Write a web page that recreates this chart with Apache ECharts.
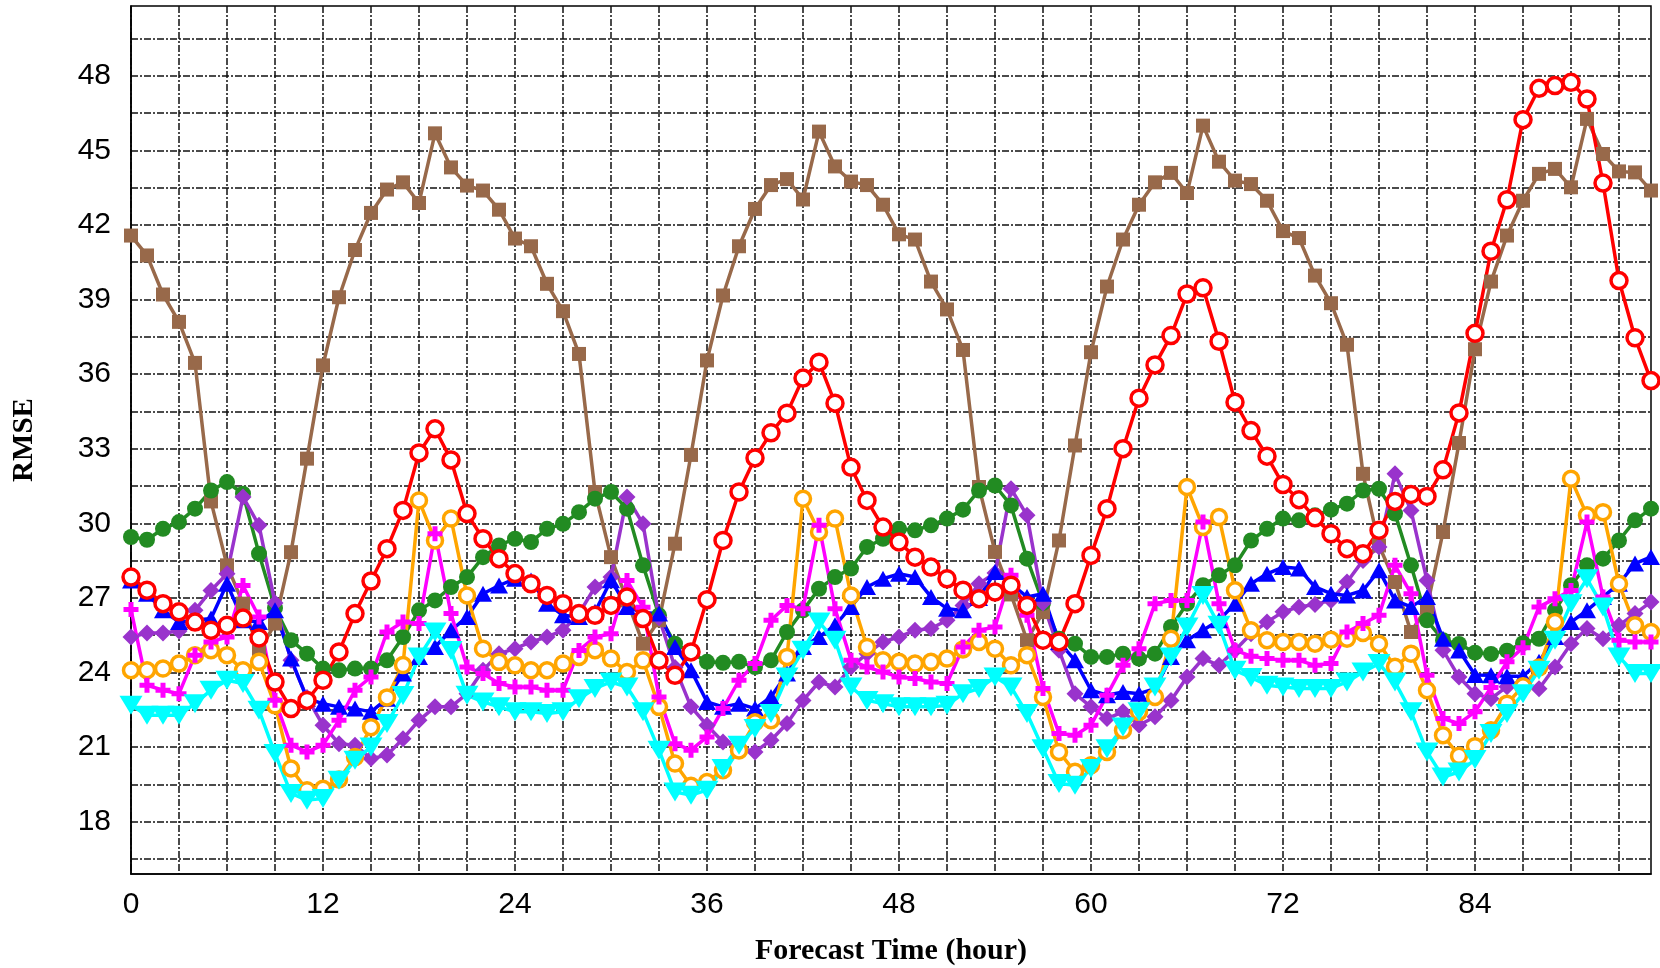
<!DOCTYPE html>
<html>
<head>
<meta charset="utf-8">
<script src="https://cdn.jsdelivr.net/npm/echarts@6/dist/echarts.min.js"></script>
<style>
html,body{margin:0;padding:0;background:#fff;}
#chart{width:1660px;height:968px;}
</style>
</head>
<body>
<div id="chart"></div>
<script>
// Tick labels
const xTickLabels = [0, 12, 24, 36, 48, 60, 72, 84];
const yTickLabels = [18, 21, 24, 27, 30, 33, 36, 39, 42, 45, 48];

// Series values, forecast hours 0..95
const brown = [41.57,40.77,39.2,38.1,36.45,30.88,28.31,26.77,24.83,25.97,28.84,32.6,36.35,39.09,40.99,42.48,43.42,43.71,42.88,45.68,44.31,43.58,43.38,42.61,41.45,41.14,39.63,38.53,36.81,31.26,28.64,26.9,25.16,26.1,29.18,32.75,36.55,39.16,41.14,42.64,43.6,43.84,43.02,45.75,44.35,43.74,43.6,42.81,41.62,41.41,39.72,38.6,36.97,31.46,28.85,27.14,25.3,26.43,29.31,33.13,36.88,39.52,41.41,42.81,43.71,44.09,43.28,45.99,44.54,43.78,43.64,42.97,41.75,41.47,39.96,38.85,37.18,31.99,29.11,27.64,25.63,26.63,29.65,33.23,37.0,39.72,41.57,42.97,44.05,44.25,43.51,46.26,44.85,44.15,44.11,43.38];
const red = [27.84,27.31,26.77,26.44,26.03,25.7,25.9,26.19,25.39,23.62,22.55,22.88,23.69,24.83,26.37,27.68,28.98,30.52,32.83,33.8,32.55,30.39,29.38,28.58,27.98,27.57,27.1,26.77,26.37,26.3,26.7,27.04,26.17,24.49,23.89,24.83,26.93,29.31,31.26,32.63,33.64,34.43,35.84,36.48,34.83,32.25,30.92,29.85,29.25,28.64,28.24,27.77,27.31,26.97,27.24,27.51,26.7,25.3,25.23,26.77,28.71,30.59,33.0,35.03,36.37,37.55,39.22,39.47,37.32,34.87,33.73,32.7,31.56,30.95,30.22,29.58,28.98,28.78,29.72,30.88,31.16,31.08,32.15,34.44,37.64,40.94,43.01,46.23,47.49,47.6,47.73,47.06,43.68,39.76,37.46,35.74];
const green = [29.45,29.34,29.78,30.05,30.59,31.32,31.66,31.19,28.78,26.6,25.3,24.76,24.16,24.09,24.16,24.16,24.49,25.43,26.5,26.9,27.44,27.84,28.64,29.11,29.38,29.25,29.78,29.98,30.45,30.99,31.26,30.59,28.31,26.3,25.16,24.8,24.43,24.39,24.43,24.22,24.49,25.63,26.5,27.37,27.84,28.18,29.05,29.38,29.78,29.72,29.92,30.19,30.55,31.32,31.52,30.72,28.58,26.8,25.36,25.16,24.63,24.63,24.76,24.56,24.76,25.83,26.77,27.51,27.91,28.31,29.31,29.78,30.19,30.12,30.32,30.55,30.79,31.32,31.39,30.39,28.31,26.1,25.3,25.15,24.8,24.75,24.88,25.18,25.36,26.5,27.51,28.31,28.58,29.31,30.12,30.59];
const purple = [25.43,25.59,25.59,25.67,26.5,27.3,27.97,31.06,29.92,26.8,24.49,23.0,21.88,21.14,21.08,20.54,20.68,21.34,22.08,22.62,22.62,23.15,24.09,24.76,24.96,25.23,25.43,25.7,26.37,27.44,27.84,31.06,29.98,26.2,24.2,22.62,21.88,21.21,21.0,20.81,21.28,21.95,22.88,23.62,23.42,24.22,24.76,25.23,25.43,25.7,25.77,26.1,26.7,27.57,28.0,31.39,30.32,26.8,24.9,23.15,22.62,22.15,22.42,21.88,22.22,22.88,23.82,24.56,24.29,24.9,25.56,26.03,26.44,26.64,26.74,26.9,27.64,28.51,29.05,31.99,30.52,27.7,24.9,23.82,23.15,22.95,23.43,23.5,23.35,24.22,25.16,25.77,25.36,25.9,26.37,26.84];
const blue = [27.7,27.17,26.5,26.03,26.1,26.17,27.57,26.1,26.03,26.5,24.56,22.95,22.75,22.62,22.55,22.42,22.95,23.96,24.63,25.03,25.7,26.23,27.17,27.5,27.77,27.7,26.77,26.3,26.23,26.44,27.71,26.64,26.4,26.37,25.03,24.09,22.82,22.62,22.75,22.55,23.02,23.96,25.03,25.43,25.9,26.64,27.44,27.77,27.97,27.84,27.04,26.57,26.5,27.0,28.04,27.57,27.04,27.17,25.23,24.49,23.29,23.09,23.22,23.15,23.35,24.63,25.3,25.7,26.1,26.77,27.57,27.97,28.24,28.18,27.44,27.17,27.1,27.3,28.11,26.9,26.64,27.04,25.36,24.89,23.9,23.89,23.85,23.85,24.43,25.43,26.03,26.5,27.04,27.57,28.38,28.65];
const orange = [24.09,24.09,24.16,24.36,24.7,24.9,24.7,24.09,24.43,22.68,20.14,19.27,19.33,19.7,20.6,21.8,23.0,24.3,30.92,29.31,30.19,27.1,24.96,24.43,24.29,24.09,24.09,24.36,24.63,24.9,24.56,24.02,24.49,22.62,20.34,19.45,19.6,20.07,20.87,22.0,22.08,24.63,30.99,29.65,30.19,27.1,25.03,24.49,24.43,24.36,24.43,24.56,24.93,25.23,24.96,24.29,24.7,23.02,20.81,20.01,20.27,20.81,21.68,22.42,23.02,25.36,31.46,29.85,30.25,27.31,25.7,25.3,25.23,25.23,25.16,25.32,25.36,25.59,25.16,24.23,24.76,23.29,21.48,20.65,21.04,21.68,22.75,23.45,24.2,26.03,31.79,30.32,30.45,27.57,25.9,25.63];
const magenta = [26.53,23.49,23.29,23.15,24.7,25.23,25.43,27.5,26.23,22.89,21.08,20.81,21.08,22.08,23.29,23.82,25.63,26.03,25.97,29.58,26.37,24.22,23.96,23.56,23.42,23.42,23.29,23.29,24.89,25.43,25.56,27.7,26.63,23.02,21.14,20.88,21.41,22.55,23.69,24.36,26.1,26.7,26.57,29.92,26.57,24.49,24.22,24.02,23.82,23.76,23.62,23.56,25.03,25.7,25.83,27.91,26.3,23.36,21.55,21.48,21.88,23.09,24.29,24.96,26.77,26.9,26.9,30.05,26.77,24.9,24.66,24.56,24.49,24.49,24.29,24.36,25.63,25.97,26.3,28.31,27.17,23.89,22.15,21.95,22.42,23.4,24.43,25.0,26.64,26.97,27.3,30.05,27.04,25.3,25.23,25.23];
const cyan = [22.68,22.28,22.28,22.28,22.75,23.29,23.69,23.56,22.48,20.74,19.14,18.87,18.94,19.67,20.47,21.01,21.95,23.08,24.63,25.63,24.89,23.09,22.82,22.62,22.42,22.42,22.35,22.42,22.95,23.36,23.62,23.42,22.42,20.88,19.2,19.07,19.27,20.14,21.08,21.75,22.35,23.82,24.9,26.03,25.3,23.42,22.88,22.75,22.62,22.62,22.62,22.68,23.15,23.36,23.82,23.42,22.35,20.94,19.54,19.47,20.14,20.94,21.81,22.42,23.42,24.63,25.83,27.1,25.9,24.09,23.8,23.49,23.42,23.36,23.36,23.36,23.62,24.02,24.36,23.62,22.42,20.81,19.8,20.0,20.5,21.55,22.35,23.15,24.09,25.3,26.77,27.77,26.64,24.63,23.96,23.96];

const xGrid = []; for (let v = 0; v <= 93; v += 3) xGrid.push(v);
const yGrid = []; for (let v = 16.5; v <= 49.6; v += 1.5) yGrid.push(+v.toFixed(1));

function pairs(arr) { return arr.map((v, i) => [i, v]); }

const gridLine = { show: true, lineStyle: { color: '#111', width: 1.5, type: [7, 2, 2, 2] } };
const plusPath = 'path://M4,0H8V4H12V8H8V12H4V8H0V4H4Z';

function mk(name, data, color, symbol, size, extra) {
  return Object.assign({
    name: name, type: 'line', data: pairs(data), symbol: symbol, symbolSize: size,
    lineStyle: { color: color, width: 3.5 },
    itemStyle: { color: color },
    emphasis: { disabled: true }, animation: false, silent: true
  }, extra || {});
}

const chart = echarts.init(document.getElementById('chart'), null, { renderer: 'canvas' });
chart.setOption({
  backgroundColor: '#ffffff',
  animation: false,
  grid: { left: 131, right: 9, top: 6, bottom: 94, outerBoundsMode: 'none', containLabel: false,
          show: true, borderColor: '#000', borderWidth: 1.5, backgroundColor: 'transparent' },
  xAxis: {
    type: 'value', min: 0, max: 95,
    name: 'Forecast Time (hour)', nameLocation: 'middle', nameGap: 62,
    nameTextStyle: { fontFamily: 'Liberation Serif', fontWeight: 'bold', fontSize: 30, color: '#000' },
    axisLine: { show: true, lineStyle: { color: '#000', width: 1.5 } },
    axisTick: { show: false, customValues: xGrid },
    axisLabel: { customValues: xTickLabels, fontFamily: 'Liberation Sans', fontSize: 30, color: '#000', margin: 16 },
    splitLine: gridLine
  },
  yAxis: {
    type: 'value', min: 15.9, max: 50.8,
    name: 'RMSE', nameLocation: 'middle', nameGap: 92, nameRotate: 90,
    nameTextStyle: { fontFamily: 'Liberation Serif', fontWeight: 'bold', fontSize: 29, color: '#000' },
    axisLine: { show: true, lineStyle: { color: '#000', width: 1.5 } },
    axisTick: { show: false, customValues: yGrid },
    axisLabel: { customValues: yTickLabels, fontFamily: 'Liberation Sans', fontSize: 30, color: '#000', margin: 20 },
    splitLine: gridLine
  },
  series: [
    mk('Brown', brown, '#98694A', 'rect', 14),
    mk('Green', green, '#228B22', 'circle', 16),
    mk('Purple', purple, '#9933CC', 'diamond', 17),
    mk('Blue', blue, '#0000FF', 'triangle', [18, 16]),
    mk('Orange', orange, '#FFA500', 'circle', 15, { itemStyle: { color: '#ffffff', borderColor: '#FFA500', borderWidth: 3.5 } }),
    mk('Magenta', magenta, '#FF00FF', plusPath, 15),
    mk('Red', red, '#FF0000', 'circle', 16, { itemStyle: { color: '#ffffff', borderColor: '#FF0000', borderWidth: 3.5 } }),
    mk('Cyan', cyan, '#00FFFF', 'triangle', [23, 19], { symbolRotate: 180 })
  ]
});
</script>
</body>
</html>
